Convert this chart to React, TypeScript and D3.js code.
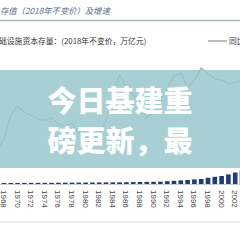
import React from "react";
import * as d3 from "d3";

const years = d3.range(1967, 2004);
// infrastructure capital stock (万亿元, 2018 constant prices)
const stock = [1.0, 1.0, 1.0, 1.05, 1.1, 1.1, 1.15, 1.2, 1.2, 1.25, 1.3, 1.35, 1.4, 1.45, 1.5, 1.55, 1.6, 1.65, 1.7, 1.8, 1.9, 2.0, 2.1, 2.2, 2.3, 2.8, 3.2, 3.6, 4.0, 4.6, 5.0, 6.2, 7.2, 8.0, 9.6, 11.5, 13.5];
// YoY growth (%)
const growth = [5.1, 7.3, 12.8, 14.8, 13.5, 12.8, 11.9, 11.7, 12.2, 10.8, 10.2, 11.1, 8.8, 7.3, 6.2, 8.4, 11.7, 17.3, 21.7, 18.8, 17.3, 14.4, 12.2, 13.5, 16.2, 18.8, 21.5, 22.1, 18.8, 20.6, 23.2, 22.1, 20.8, 20.6, 19.7, 20.1, 20.6];
const tickYears = d3.range(1968, 2003, 2);

const titleText = "存值（2018年不变价）及增速";
const legendBar = "础设施资本存量：(2018年不变价，万亿元)";
const legendLine = "同比";
const overlay1 = "今日基建重";
const overlay2 = "磅更新，最";

export default function App() {
  const W = 240, H = 240;
  const base = 184;
  const x = d3.scaleBand<number>().domain(years).range([-6.2, 245.4]).paddingInner(0.32).paddingOuter(0.16);
  const yBar = d3.scaleLinear().domain([0, 100]).range([base, base - 100]);
  const yLine = d3.scaleLinear().domain([0, 25]).range([173, 60]);
  const bw = x.bandwidth();
  const cx = (yr: number) => (x(yr) as number) + bw / 2;
  const line = d3.line<number>().x((_, i) => cx(years[i])).y((d) => yLine(d));
  const font = "'Noto Sans CJK SC', 'Noto Sans', sans-serif";
  return (
    <svg width={W} height={H} viewBox={`0 0 ${W} ${H}`} style={{ position: "absolute", left: 0, top: 0, background: "#fff" }}>
      <rect x={0} y={0} width={W} height={H} fill="#fff" />
      <text x={0} y={14} fontSize={8.3} fill="#5a6e8e" fontStyle="italic" fontFamily={font}>{titleText}</text>
      <line x1={0} x2={W} y1={20.5} y2={20.5} stroke="#aab4be" strokeWidth={1.3} />
      <text x={-1} y={44} fontSize={7.8} fill="#333" fontFamily={font}>{legendBar}</text>
      <line x1={208} x2={227} y1={41} y2={41} stroke="#9a9a9a" strokeWidth={1.3} />
      <text x={229} y={44} fontSize={7.8} fill="#333" fontFamily={font}>{legendLine}</text>
      <path d={line(growth) || ""} fill="none" stroke="#9a9a9a" strokeWidth={1.2} />
      <line x1={0} x2={W} y1={base + 0.5} y2={base + 0.5} stroke="#c8ccd4" strokeWidth={1} />
      {years.map((yr, i) => (
        <rect key={yr} x={x(yr)} y={yBar(stock[i])} width={bw} height={base - yBar(stock[i])} fill="#1f3c78" />
      ))}
      {tickYears.map((yr) => (
        <text key={yr} transform={`translate(${cx(yr) - 3},190) rotate(90)`} fontSize={8} fill="#444" fontFamily="'Liberation Sans', Arial, sans-serif">{yr}</text>
      ))}
      <line x1={0} x2={W} y1={222} y2={222} stroke="#d6d6d6" strokeWidth={1} />
      <rect x={0} y={70} width={W} height={98} fill="rgb(153,200,204)" opacity={0.85} />
      <text x={120} y={112} textAnchor="middle" fontSize={29} fontWeight={900} fill="#fff" fontFamily={font}>{overlay1}</text>
      <text x={120} y={152} textAnchor="middle" fontSize={29} fontWeight={900} fill="#fff" fontFamily={font}>{overlay2}</text>
    </svg>
  );
}
